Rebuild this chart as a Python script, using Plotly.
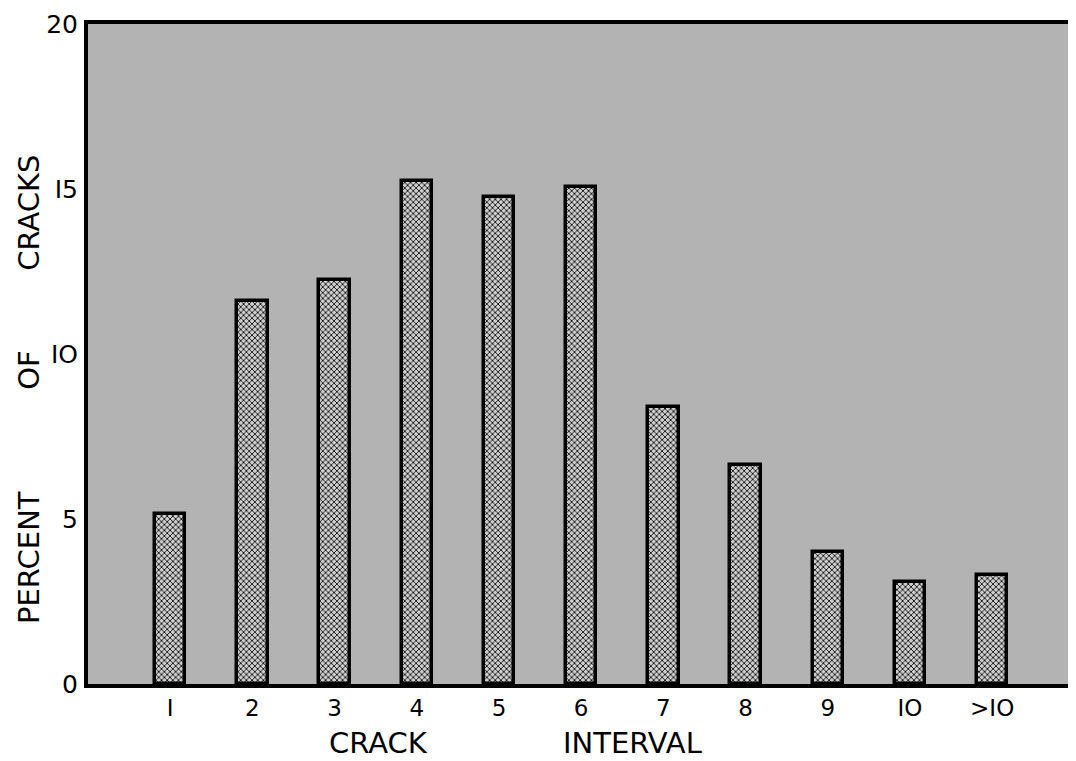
import plotly.graph_objects as go

categories = ["1", "2", "3", "4", "5", "6", "7", "8", "9", "10", ">10"]
percent_of_cracks = [5.15, 11.6, 12.25, 15.25, 14.75, 15.05, 8.4, 6.65, 4.0, 3.1, 3.3]
y_tick_values = [0, 5, 10, 15, 20]
y_tick_labels = ["0", "5", "IO", "I5", "20"]
x_tick_labels = ["I", "2", "3", "4", "5", "6", "7", "8", "9", "IO", ">IO"]

FONT = "DejaVu Sans, Liberation Sans, sans-serif"

fig = go.Figure()
fig.add_trace(go.Bar(
    x=categories,
    y=percent_of_cracks,
    width=0.37,
    marker=dict(
        color="#c4c4c4",
        line=dict(color="black", width=3.5),
        pattern=dict(shape="x", fgcolor="#111111", bgcolor="#cfcfcf",
                     size=4, solidity=0.4),
    ),
    showlegend=False,
))

fig.update_layout(
    template="none",
    width=1076, height=761,
    margin=dict(l=80, r=8, t=16, b=85),
    paper_bgcolor="white",
    plot_bgcolor="#b3b3b3",
    font=dict(family=FONT, color="black"),
    bargap=0,
    xaxis=dict(
        type="category",
        range=[-1, 11.02],
        tickmode="array",
        tickvals=categories,
        ticktext=x_tick_labels,
        tickfont=dict(size=23, family=FONT),
        showline=True, linecolor="black", linewidth=4, mirror=True,
        showgrid=False, zeroline=False, ticks="", ticklabelstandoff=0,
        automargin=False, ticklabeloverflow="allow",
    ),
    yaxis=dict(
        range=[0, 20],
        tickmode="array",
        tickvals=y_tick_values,
        ticktext=y_tick_labels,
        tickfont=dict(size=25, family=FONT),
        showline=True, linecolor="black", linewidth=4,
        showgrid=False, zeroline=False, ticks="", ticklabelstandoff=1,
        automargin=False, ticklabeloverflow="allow",
    ),
    annotations=[
        dict(text="CRACK", x=0.2945, y=-0.0894, xref="paper", yref="paper",
             showarrow=False, font=dict(size=29, family=FONT),
             xanchor="center", yanchor="middle"),
        dict(text="INTERVAL", x=0.5516, y=-0.0894, xref="paper", yref="paper",
             showarrow=False, font=dict(size=29, family=FONT),
             xanchor="center", yanchor="middle"),
        dict(text="PERCENT", x=-0.0597, y=0.191, xref="paper", yref="paper",
             showarrow=False, textangle=-90, font=dict(size=29, family=FONT),
             xanchor="center", yanchor="middle"),
        dict(text="OF", x=-0.0597, y=0.476, xref="paper", yref="paper",
             showarrow=False, textangle=-90, font=dict(size=29, family=FONT),
             xanchor="center", yanchor="middle"),
        dict(text="CRACKS", x=-0.0597, y=0.714, xref="paper", yref="paper",
             showarrow=False, textangle=-90, font=dict(size=29, family=FONT),
             xanchor="center", yanchor="middle"),
    ],
)

fig.write_html("out.html")
